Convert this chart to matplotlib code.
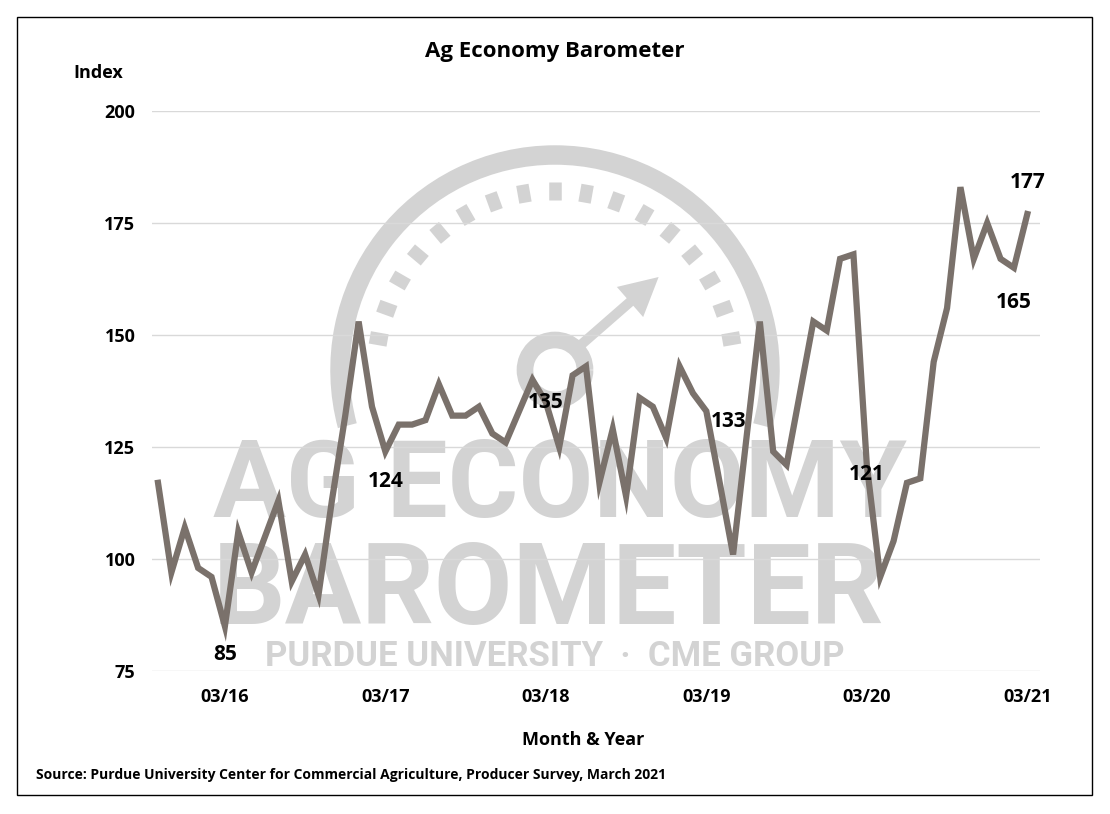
import numpy as np
import matplotlib
matplotlib.use("Agg")
import matplotlib.pyplot as plt
from matplotlib.patches import Arc, Rectangle, FancyArrow

# Ag Economy Barometer, monthly Oct 2015 - Mar 2021
values = [117, 97, 107, 98, 96, 85, 106, 97, 105, 113, 95, 101, 92, 113, 132, 153,
          134, 124, 130, 130, 131, 139, 132, 132, 134, 128, 126, 133, 140, 135, 125,
          141, 143, 117, 129, 114, 136, 134, 127, 143, 137, 133, 117, 101, 127, 153,
          124, 121, 137, 153, 151, 167, 168, 121, 96, 104, 117, 118, 144, 156, 183,
          167, 175, 167, 165, 177]
tick_pos = [5, 17, 29, 41, 53, 65]
tick_labels = ['03/16', '03/17', '03/18', '03/19', '03/20', '03/21']
y_ticks = [75, 100, 125, 150, 175, 200]
# (index, value shown, dx px, dy px)
labels = [(5, 85, 0, -28), (17, 124, 0, -30), (29, 135, 0, 0), (41, 133, 22, -10),
          (53, 121, 0, -10), (64, 165, 0, -35), (65, 177, 0, 32)]

plt.rcParams['font.family'] = ['Open Sans', 'DejaVu Sans']
W, H = 1110, 814
fig = plt.figure(figsize=(W / 100, H / 100), dpi=100)

# watermark layer in pixel coords (y inverted)
wm = fig.add_axes([0, 0, 1, 1], zorder=0)
wm.set_xlim(0, W)
wm.set_ylim(H, 0)
wm.axis('off')
gray = '#d3d3d3'
wm.add_patch(Rectangle((17, 17), 1075, 778, fill=False, ec='black', lw=1))
wm.add_patch(Arc((555, 370), 430, 430, theta1=-195, theta2=15, ec=gray, lw=14))
for a in np.linspace(10, 170, 17):
    r0, r1 = 170, 188
    t = np.deg2rad(a)
    wm.plot([555 + r0 * np.cos(t), 555 + r1 * np.cos(t)],
            [370 - r0 * np.sin(t), 370 - r1 * np.sin(t)], color=gray, lw=9, solid_capstyle='butt')
wm.add_patch(Arc((555, 370), 60, 60, ec=gray, lw=12))
wm.add_patch(FancyArrow(575, 350, 55, -48, width=10, head_width=40, head_length=38,
                        color=gray, lw=0))
wm.text(560, 488, 'AG ECONOMY', fontsize=78, fontweight='bold', color=gray,
        ha='center', va='center', family='Roboto')
wm.text(548, 593, 'BAROMETER', fontsize=82, fontweight='bold', color=gray,
        ha='center', va='center', family='Roboto')
wm.text(555, 656, 'PURDUE UNIVERSITY  ·  CME GROUP', fontsize=25, fontweight='bold',
        color=gray, ha='center', va='center', family='Roboto')

# main axes
l, r, b, t = 152 / W, 1040 / W, 1 - 671 / H, 1 - 111 / H
ax = fig.add_axes([l, b, r - l, t - b], zorder=1)
ax.patch.set_alpha(0)
x = np.arange(len(values))
ax.plot(x, values, color='#7a716b', lw=4.5, solid_joinstyle='miter', zorder=3)
ax.set_xlim(-0.45, 65.95)
ax.set_ylim(75, 200)
ax.set_yticks(y_ticks)
ax.set_yticklabels([str(v) for v in y_ticks], fontsize=13, fontweight='bold')
ax.set_xticks(tick_pos)
ax.set_xticklabels(tick_labels, fontsize=13, fontweight='bold')
ax.tick_params(length=0, pad=12)
ax.grid(axis='y', color='#d9d9d9', lw=1)
for s in ax.spines.values():
    s.set_visible(False)
for i, v, dx, dy in labels:
    ax.annotate(str(v), (i, v), xytext=(dx, dy), textcoords='offset pixels',
                ha='center', va='center', fontsize=15, fontweight='bold', zorder=4)

fig.text(555 / W, 1 - 52 / H, 'Ag Economy Barometer', ha='center', va='center',
         fontsize=16, fontweight='bold')
fig.text(98 / W, 1 - 73 / H, 'Index', ha='center', va='center', fontsize=13, fontweight='bold')
fig.text(583 / W, 1 - 740 / H, 'Month & Year', ha='center', va='center', fontsize=13,
         fontweight='bold')
fig.text(36 / W, 1 - 775 / H,
         'Source: Purdue University Center for Commercial Agriculture, Producer Survey, March 2021',
         ha='left', va='center', fontsize=10, fontweight='bold')
fig.savefig('out.png', dpi=100)
